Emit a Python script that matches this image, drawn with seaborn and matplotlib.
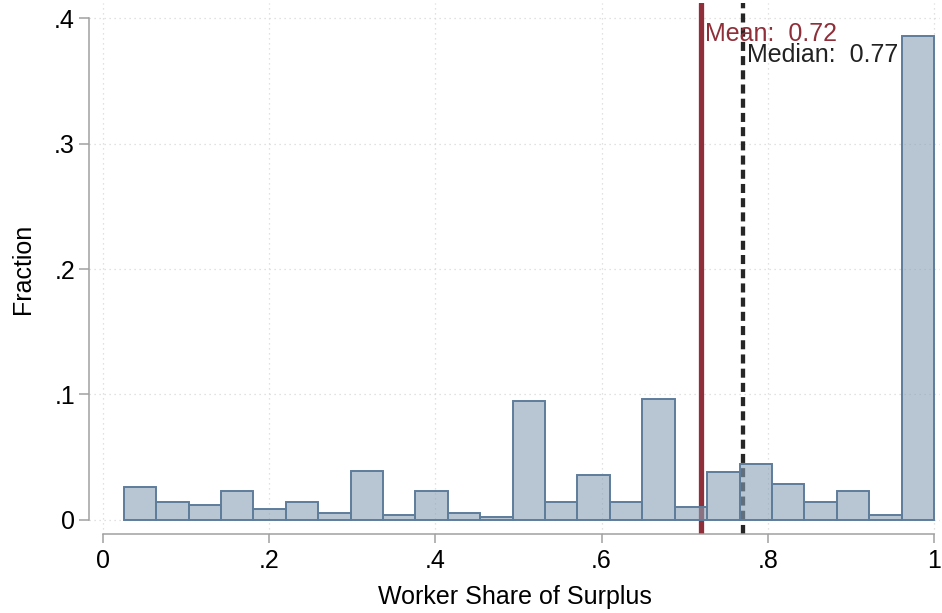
import matplotlib
matplotlib.use("Agg")
import matplotlib.pyplot as plt
import numpy as np
import pandas as pd
import seaborn as sns

# Share of the match surplus going to the worker: 25 equal-width bins
bin_start = 0.025
bin_end = 1.0
n_bins = 25
fractions = [
    0.0259, 0.0147, 0.0117, 0.0229, 0.0085, 0.0147, 0.0053, 0.0387,
    0.0038, 0.0229, 0.0053, 0.0024, 0.0949, 0.0147, 0.0355, 0.0147,
    0.0965, 0.0101, 0.0384, 0.0445, 0.0290, 0.0147, 0.0227, 0.0037,
    0.3860,
]
mean_value = 0.72
median_value = 0.77

x_ticks = [0, 0.2, 0.4, 0.6, 0.8, 1.0]
x_ticklabels = ["0", ".2", ".4", ".6", ".8", "1"]
y_ticks = [0, 0.1, 0.2, 0.3, 0.4]
y_ticklabels = ["0", ".1", ".2", ".3", ".4"]

sns.set_style("white")
plt.rcParams["font.family"] = ["Liberation Sans", "DejaVu Sans"]
plt.rcParams["text.color"] = "black"
plt.rcParams["axes.labelcolor"] = "black"
plt.rcParams["xtick.labelcolor"] = "black"
plt.rcParams["ytick.labelcolor"] = "black"

edges = np.linspace(bin_start, bin_end, n_bins + 1)
centers = (edges[:-1] + edges[1:]) / 2
hist_df = pd.DataFrame({"share": centers, "fraction": fractions})

fig = plt.figure(figsize=(9.42, 6.13), dpi=100)
ax = fig.add_axes([89 / 942, 1 - 534 / 613, (940 - 89) / 942, (534 - 3) / 613])

bar_face = (138 / 255, 160 / 255, 182 / 255, 0.6)
bar_edge = "#5E7D9B"

# Reference lines sit behind the bars
ax.axvline(mean_value, color="#8E2F39", lw=3.8, zorder=1)
ax.axvline(median_value, color="#262626", lw=3.1, linestyle=(0, (2.1, 1.2)), zorder=1)

sns.histplot(data=hist_df, x="share", weights="fraction", bins=list(edges),
             stat="count", ax=ax, zorder=2)
for p in ax.patches:
    p.set_alpha(None)
    p.set_facecolor(bar_face)
    p.set_edgecolor(bar_edge)
    p.set_linewidth(1.4)

ax.set_xlim(-0.0168, 1.0072)
ax.set_ylim(-0.0112, 0.412)

ax.set_xticks(x_ticks)
ax.set_xticklabels(x_ticklabels)
ax.set_yticks(y_ticks)
ax.set_yticklabels(y_ticklabels)

ax.grid(True, linestyle=(0, (1, 3)), color="#d8d8d8", lw=0.9)
ax.set_axisbelow(True)

for side in ("top", "right"):
    ax.spines[side].set_visible(False)
spine_color = "#a0a0a0"
ax.spines["left"].set_bounds(0, 0.4)
ax.spines["bottom"].set_bounds(0, 1.0)
for side in ("left", "bottom"):
    ax.spines[side].set_color(spine_color)
    ax.spines[side].set_linewidth(1.1)

ax.tick_params(axis="y", direction="out", length=7, width=1.1, color=spine_color,
               labelsize=18, pad=3, left=True, labelcolor="black")
ax.tick_params(axis="x", direction="out", length=6.5, width=1.1, color=spine_color,
               labelsize=18, pad=4, bottom=True, labelcolor="black")

ax.set_xlabel("Worker Share of Surplus", fontsize=18, labelpad=9, color="black")
ax.set_ylabel("Fraction", fontsize=18, labelpad=14, color="black")

# Labels next to the reference lines
ax.annotate(f"Mean:  {mean_value:.2f}", xy=(mean_value, 0.3817), xytext=(3, 0),
            textcoords="offset points", ha="left", va="baseline",
            fontsize=18, color="#8E2F39")
ax.annotate(f"Median:  {median_value:.2f}", xy=(median_value, 0.365), xytext=(3, 0),
            textcoords="offset points", ha="left", va="baseline",
            fontsize=18, color="#222222")

fig.savefig("out.png", dpi=100)
